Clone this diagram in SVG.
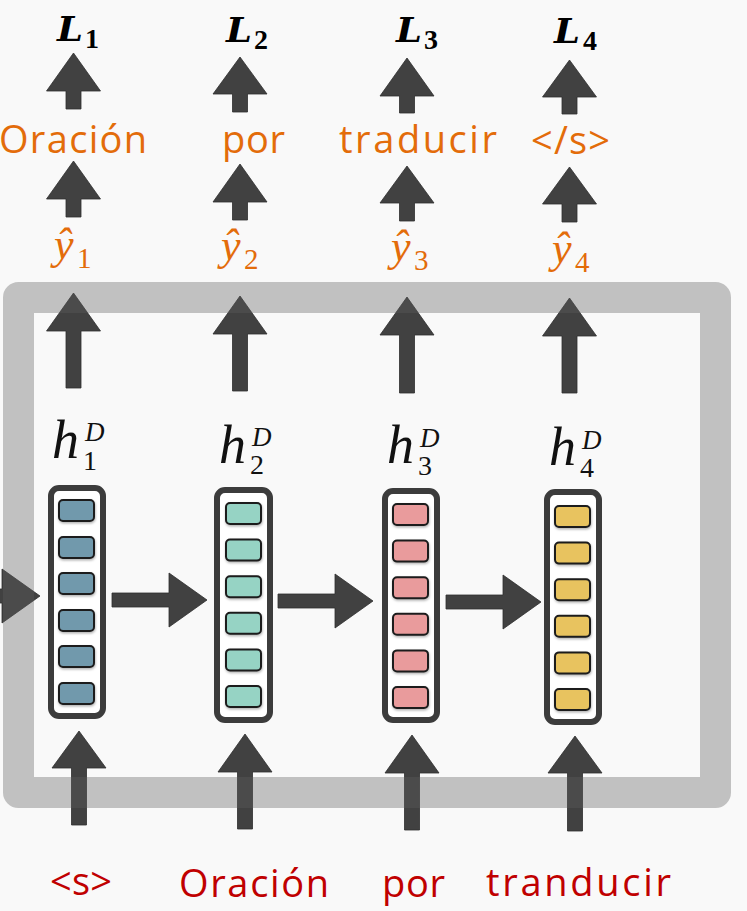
<svg xmlns="http://www.w3.org/2000/svg" width="747" height="911" viewBox="0 0 747 911">
<style>
.arr{fill:#414141;stroke:#2e2e2e;stroke-width:0.8}
.box{fill:#ffffff;stroke:#3c3c3c;stroke-width:6}
.cell{stroke:#1c1c1c;stroke-width:2}
.c1{fill:#7199ac}.c2{fill:#96d3c4}.c3{fill:#e99b9c}.c4{fill:#e8c35f}
.L{font-family:"Liberation Serif",serif;font-weight:bold;fill:#000}
.Li{font-family:"DejaVu Serif",serif;font-weight:bold;font-style:italic;font-size:33px;fill:#000}
.word{font-family:"Open Sans",sans-serif;font-size:38px}
.out{fill:#e36c0a}
.in{fill:#c00000}
.math{font-family:"Liberation Serif",serif}
.yh{fill:#e36c0a}
.h{fill:#111}
</style>
<defs>
<filter id="sh" x="-20%" y="-20%" width="140%" height="160%">
<feDropShadow dx="0.5" dy="1.5" stdDeviation="1" flood-color="#000" flood-opacity="0.3"/>
</filter>
</defs>
<rect x="0" y="0" width="747" height="911" fill="#f9f9f9"/>

<g id="connectors">
<path class="arr" d="M73.5,53 L100.5,91 L81,91 L81,109 L66,109 L66,91 L46.5,91 Z"/>
<path class="arr" d="M240,57 L267,94 L247.5,94 L247.5,112 L232.5,112 L232.5,94 L213,94 Z"/>
<path class="arr" d="M407,58 L434,96 L414.5,96 L414.5,113 L399.5,113 L399.5,96 L380,96 Z"/>
<path class="arr" d="M569.5,60 L596.5,97 L577,97 L577,114 L562,114 L562,97 L542.5,97 Z"/>
<path class="arr" d="M73.5,161 L100.5,199 L81,199 L81,217 L66,217 L66,199 L46.5,199 Z"/>
<path class="arr" d="M240,164 L267,202 L247.5,202 L247.5,220 L232.5,220 L232.5,202 L213,202 Z"/>
<path class="arr" d="M407,166 L434,203 L414.5,203 L414.5,221 L399.5,221 L399.5,203 L380,203 Z"/>
<path class="arr" d="M569.5,167 L596.5,204 L577,204 L577,222 L562,222 L562,204 L542.5,204 Z"/>
<path class="arr" d="M73.5,293 L100.5,331 L81,331 L81,388 L66,388 L66,331 L46.5,331 Z"/>
<path class="arr" d="M240,296 L267,334 L247.5,334 L247.5,391 L232.5,391 L232.5,334 L213,334 Z"/>
<path class="arr" d="M407,297 L434,335 L414.5,335 L414.5,393 L399.5,393 L399.5,335 L380,335 Z"/>
<path class="arr" d="M569.5,298 L596.5,336 L577,336 L577,393 L562,393 L562,336 L542.5,336 Z"/>
<path class="arr" d="M79,731 L106,768 L86.5,768 L86.5,825 L71.5,825 L71.5,768 L52,768 Z"/>
<path class="arr" d="M245,734 L272,772 L252.5,772 L252.5,829 L237.5,829 L237.5,772 L218,772 Z"/>
<path class="arr" d="M412,735 L439,773 L419.5,773 L419.5,830 L404.5,830 L404.5,773 L385,773 Z"/>
<path class="arr" d="M575,736 L602,773 L582.5,773 L582.5,831 L567.5,831 L567.5,773 L548,773 Z"/>
<path class="arr" d="M-10,589 L2,589 L2,569 L40,596 L2,623 L2,603 L-10,603 Z"/>
<path class="arr" d="M112,593 L169,593 L169,573 L207,600 L169,627 L169,607 L112,607 Z"/>
<path class="arr" d="M278,594 L335,594 L335,574 L373,601 L335,628 L335,608 L278,608 Z"/>
<path class="arr" d="M446,595 L503,595 L503,575 L541,602 L503,629 L503,609 L446,609 Z"/>
</g>

<g id="node-h1">
<rect class="box" x="51" y="488" width="52" height="228" rx="8"/>
<g class="c1" filter="url(#sh)">
<rect class="cell" x="59" y="500" width="35" height="21" rx="4"/>
<rect class="cell" x="59" y="537" width="35" height="21" rx="4"/>
<rect class="cell" x="59" y="573" width="35" height="21" rx="4"/>
<rect class="cell" x="59" y="610" width="35" height="21" rx="4"/>
<rect class="cell" x="59" y="646" width="35" height="21" rx="4"/>
<rect class="cell" x="59" y="683" width="35" height="21" rx="4"/>
</g>
<text class="math h" font-style="italic" font-size="54" x="52" y="458">h</text>
<text class="math h" font-style="italic" font-size="27" x="85" y="441">D</text>
<text class="math h" font-size="28" x="83" y="470">1</text>
</g>

<g id="node-h2">
<rect class="box" x="217" y="490" width="53" height="230" rx="8"/>
<g class="c2" filter="url(#sh)">
<rect class="cell" x="226" y="503" width="35" height="21" rx="4"/>
<rect class="cell" x="226" y="539.6" width="35" height="21" rx="4"/>
<rect class="cell" x="226" y="576.2" width="35" height="21" rx="4"/>
<rect class="cell" x="226" y="612.8" width="35" height="21" rx="4"/>
<rect class="cell" x="226" y="649.4" width="35" height="21" rx="4"/>
<rect class="cell" x="226" y="686" width="35" height="21" rx="4"/>
</g>
<text class="math h" font-style="italic" font-size="54" x="219" y="463">h</text>
<text class="math h" font-style="italic" font-size="27" x="252" y="446">D</text>
<text class="math h" font-size="28" x="250" y="474">2</text>
</g>

<g id="node-h3">
<rect class="box" x="385" y="491" width="52" height="229" rx="8"/>
<g class="c3" filter="url(#sh)">
<rect class="cell" x="393" y="504" width="35" height="21" rx="4"/>
<rect class="cell" x="393" y="540.6" width="35" height="21" rx="4"/>
<rect class="cell" x="393" y="577.2" width="35" height="21" rx="4"/>
<rect class="cell" x="393" y="613.8" width="35" height="21" rx="4"/>
<rect class="cell" x="393" y="650.4" width="35" height="21" rx="4"/>
<rect class="cell" x="393" y="687" width="35" height="21" rx="4"/>
</g>
<text class="math h" font-style="italic" font-size="54" x="387" y="463">h</text>
<text class="math h" font-style="italic" font-size="27" x="420" y="447">D</text>
<text class="math h" font-size="28" x="418" y="475">3</text>
</g>

<g id="node-h4">
<rect class="box" x="547" y="492" width="52" height="230" rx="8"/>
<g class="c4" filter="url(#sh)">
<rect class="cell" x="555" y="506" width="35" height="21" rx="4"/>
<rect class="cell" x="555" y="542.6" width="35" height="21" rx="4"/>
<rect class="cell" x="555" y="579.2" width="35" height="21" rx="4"/>
<rect class="cell" x="555" y="615.8" width="35" height="21" rx="4"/>
<rect class="cell" x="555" y="652.4" width="35" height="21" rx="4"/>
<rect class="cell" x="555" y="689" width="35" height="21" rx="4"/>
</g>
<text class="math h" font-style="italic" font-size="54" x="549" y="465">h</text>
<text class="math h" font-style="italic" font-size="27" x="582" y="449">D</text>
<text class="math h" font-size="28" x="580" y="477">4</text>
</g>

<g id="frame">
<rect x="18.5" y="297.5" width="697" height="495" fill="none" stroke="#5e5e5e" stroke-opacity="0.36" stroke-width="31" stroke-linejoin="round"/>
</g>

<g id="loss-labels">
<text class="Li" transform="translate(57,41) scale(1.12,1)">L</text><text class="L" font-size="28" x="85" y="48">1</text>
<text class="Li" transform="translate(226,42) scale(1.12,1)">L</text><text class="L" font-size="28" x="254" y="49">2</text>
<text class="Li" transform="translate(396,42) scale(1.12,1)">L</text><text class="L" font-size="28" x="424" y="49">3</text>
<text class="Li" transform="translate(554,43) scale(1.12,1)">L</text><text class="L" font-size="28" x="583" y="50">4</text>
</g>

<g id="output-words">
<text class="word out" x="-1" y="153" textLength="148" lengthAdjust="spacing">Oración</text>
<text class="word out" x="222" y="153" textLength="63" lengthAdjust="spacing">por</text>
<text class="word out" x="339" y="153" textLength="158" lengthAdjust="spacing">traducir</text>
<text class="word out" x="531" y="154" textLength="79" lengthAdjust="spacing">&lt;/s&gt;</text>
</g>

<g id="y-hat-labels">
<text class="math yh" font-style="italic" font-size="44" x="54" y="259">ŷ</text><text class="math yh" font-size="29" x="77" y="268">1</text>
<text class="math yh" font-style="italic" font-size="44" x="221" y="260">ŷ</text><text class="math yh" font-size="29" x="244" y="269">2</text>
<text class="math yh" font-style="italic" font-size="44" x="391" y="261">ŷ</text><text class="math yh" font-size="29" x="414" y="270">3</text>
<text class="math yh" font-style="italic" font-size="44" x="552" y="263">ŷ</text><text class="math yh" font-size="29" x="575" y="272">4</text>
</g>

<g id="input-words">
<text class="word in" x="50" y="895" textLength="62" lengthAdjust="spacing">&lt;s&gt;</text>
<text class="word in" x="179" y="897" textLength="150" lengthAdjust="spacing">Oración</text>
<text class="word in" x="382" y="897" textLength="63" lengthAdjust="spacing">por</text>
<text class="word in" x="486" y="896" textLength="185" lengthAdjust="spacing">tranducir</text>
</g>
</svg>
